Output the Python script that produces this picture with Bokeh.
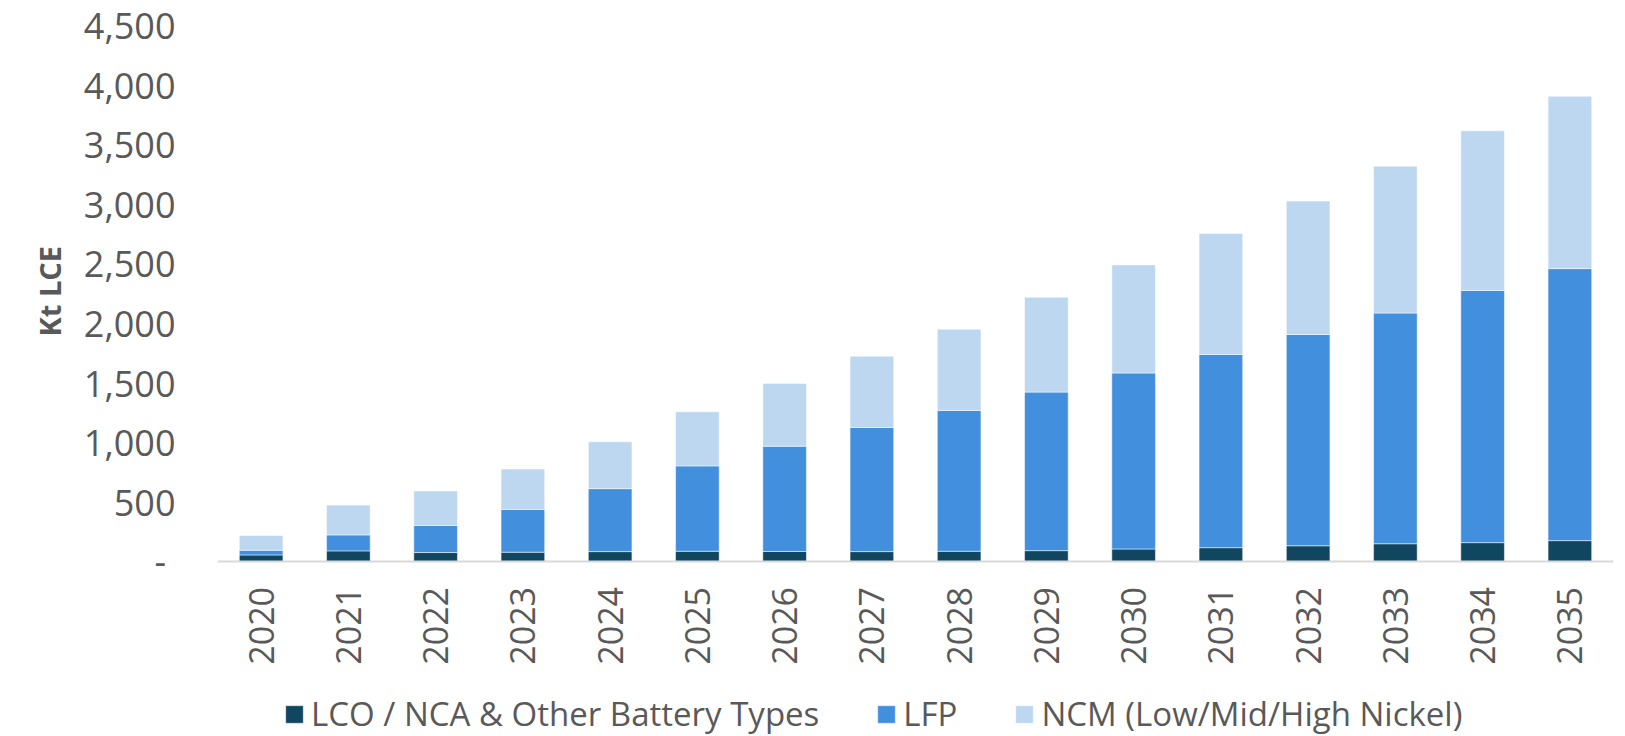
from bokeh.plotting import figure
from bokeh.models import (FactorRange, Range1d, FixedTicker, NumeralTickFormatter,
                          Legend, LegendItem, ColumnDataSource, Title)
from bokeh.embed import file_html
from bokeh.resources import INLINE

# ---- data (Kt LCE) ----
years = [str(y) for y in range(2020, 2036)]
lco = [59, 93, 79, 82, 87, 90, 88, 87, 90, 95, 109, 120, 136, 153, 162, 179]
lfp = [39, 134, 227, 359, 528, 716, 883, 1041, 1181, 1330, 1476, 1621, 1772, 1935, 2116, 2282]
ncm = [124, 250, 289, 339, 393, 454, 527, 598, 682, 795, 907, 1014, 1120, 1231, 1339, 1445]
series_names = ["LCO / NCA & Other Battery Types", "LFP", "NCM (Low/Mid/High Nickel)"]
y_ticks = [0, 500, 1000, 1500, 2000, 2500, 3000, 3500, 4000, 4500]
y_title = "Kt LCE"

colors = ["#114660", "#428FDD", "#BDD7F1"]
FONT = "Open Sans"
TXT = "#595959"

source = ColumnDataSource(dict(years=years, lco=lco, lfp=lfp, ncm=ncm))

# frame spans the whole height; the value axis runs 0..4500 in the upper part,
# the lower part holds the category labels and the legend
p = figure(x_range=FactorRange(*years), y_range=Range1d(-1464, 4500),
           width=1625, height=736, output_backend="svg", toolbar_location=None,
           min_border_left=217, min_border_right=12, min_border_top=25,
           min_border_bottom=0)

rs = p.vbar_stack(["lco", "lfp", "ncm"], x="years", width=0.5, source=source,
                  fill_color=colors, line_color="white", line_width=1, line_alpha=0.5)

p.outline_line_color = None
p.xgrid.grid_line_color = None
p.ygrid.grid_line_color = None

# y axis
p.yaxis.ticker = FixedTicker(ticks=y_ticks)
p.yaxis.formatter = NumeralTickFormatter(format="0,0")
p.yaxis.major_label_overrides = {0: "-\u00a0"}
p.yaxis.axis_line_color = None
p.yaxis.major_tick_line_color = None
p.yaxis.minor_tick_line_color = None
p.yaxis.major_tick_out = 0
p.yaxis.major_label_standoff = 42
p.yaxis.major_label_text_font = FONT
p.yaxis.major_label_text_font_size = "36px"
p.yaxis.major_label_text_color = TXT

# y axis title, placed beside the 0..4500 part of the axis
p.add_layout(Title(text=y_title, align="left", offset=400, vertical_align="top",
                   standoff=20, text_font=FONT, text_font_size="29px",
                   text_font_style="bold", text_color=TXT), "left")

# x axis, drawn at value 0
p.xaxis.fixed_location = 0
p.xaxis.axis_line_color = "#D9D9D9"
p.xaxis.axis_line_width = 2
p.xaxis.major_tick_line_color = None
p.xaxis.minor_tick_line_color = None
p.xaxis.major_tick_out = 0
p.xaxis.major_label_standoff = 25
p.xaxis.major_label_orientation = 3.14159265 / 2
p.xaxis.major_label_text_font = FONT
p.xaxis.major_label_text_font_size = "34px"
p.xaxis.major_label_text_color = TXT

items = [LegendItem(label=n, renderers=[r]) for n, r in zip(series_names, rs)]
legend = Legend(items=items, location=(66, 0), orientation="horizontal",
                glyph_width=22, glyph_height=22, label_standoff=6, spacing=56,
                padding=0, margin=0, label_height=22,
                label_text_font=FONT, label_text_font_size="33px",
                label_text_color=TXT, border_line_color=None,
                background_fill_alpha=0)
p.add_layout(legend)

open("out.html", "w").write(file_html(p, INLINE))
